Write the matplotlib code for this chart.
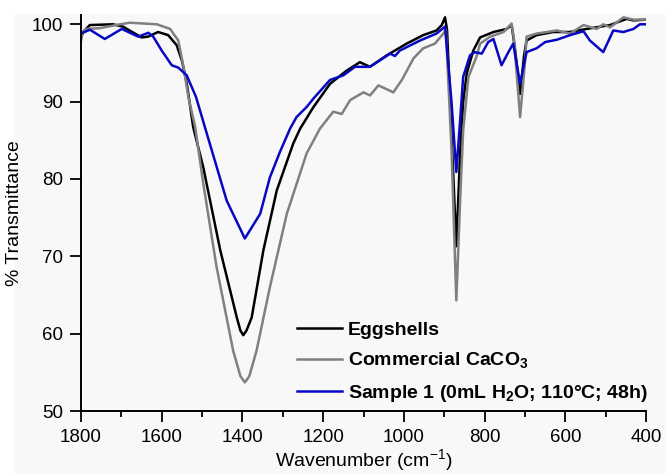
from matplotlib import pyplot as plt
from matplotlib.patches import Rectangle
import numpy as np

# PARAMS
W, H, DPI = 666, 474, 100
BG = '#f8f8f8'
plt.rcParams['font.family'] = ['Liberation Sans', 'DejaVu Sans']
plt.rcParams['mathtext.fontset'] = 'custom'
plt.rcParams['mathtext.rm'] = 'Liberation Sans'
plt.rcParams['mathtext.bf'] = 'Liberation Sans:bold'

# DATA
EGG_X = [1800, 1795, 1778, 1721, 1696, 1650, 1634, 1609, 1584, 1563, 1550, 1538, 1522, 1497, 1455,
         1414, 1405, 1398, 1390, 1377, 1348, 1315, 1274, 1257, 1224, 1183, 1142, 1109, 1084, 1042,
         993, 952, 919, 906, 898, 893, 882, 870, 860, 853, 844, 828, 811, 778, 745, 733, 725, 712,
         702, 696, 671, 630, 589, 547, 489, 448, 431, 400]
EGG_Y = [98.2, 99.0, 99.9, 100.0, 99.7, 98.3, 98.4, 99.0, 98.6, 97.3, 95.3, 92.4, 86.7, 81.5, 70.8,
         62.1, 60.4, 59.8, 60.4, 62.1, 70.8, 78.5, 84.6, 86.5, 89.3, 92.3, 94.0, 95.1, 94.5, 96.0,
         97.5, 98.6, 99.2, 99.9, 100.9, 99.3, 86.0, 71.3, 84.0, 90.0, 93.7, 96.6, 98.3, 99.0, 99.4,
         99.9, 97.0, 91.0, 96.0, 97.9, 98.6, 99.0, 99.0, 99.4, 99.9, 100.7, 100.5, 100.6]

CAL_X = [1800, 1796, 1786, 1753, 1703, 1679, 1612, 1579, 1559, 1546, 1534, 1517, 1497, 1464, 1423,
         1405, 1394, 1383, 1365, 1332, 1290, 1241, 1208, 1175, 1154, 1133, 1100, 1084, 1063, 1026,
         1005, 976, 952, 923, 902, 896, 882, 870, 860, 853, 840, 820, 811, 786, 753, 733, 727, 712,
         700, 696, 671, 621, 588, 555, 522, 506, 489, 456, 431, 400]
CAL_Y = [97.9, 99.0, 99.4, 99.5, 100.0, 100.2, 100.0, 99.4, 97.9, 94.5, 90.6, 86.7, 79.4, 68.6, 57.8,
         54.5, 53.7, 54.5, 57.8, 66.0, 75.5, 83.3, 86.5, 88.7, 88.4, 90.2, 91.2, 90.8, 92.1, 91.2,
         92.8, 95.6, 96.9, 97.5, 98.8, 99.3, 84.0, 64.3, 78.0, 86.3, 93.2, 95.8, 97.5, 98.4, 99.0,
         100.1, 98.0, 88.0, 95.0, 98.4, 98.8, 99.2, 98.8, 99.9, 99.4, 100.0, 99.6, 100.9, 100.6, 100.6]

S1_X = [1800, 1778, 1741, 1699, 1658, 1633, 1621, 1600, 1575, 1559, 1538, 1515, 1493, 1439, 1394,
        1356, 1332, 1307, 1282, 1266, 1241, 1224, 1183, 1150, 1121, 1084, 1034, 1022, 1010, 960,
        919, 898, 882, 870, 860, 853, 836, 824, 807, 791, 778, 758, 741, 729, 712, 696, 671, 650,
        621, 588, 555, 539, 506, 481, 456, 431, 415, 400]
S1_Y = [98.8, 99.3, 98.1, 99.4, 98.4, 98.9, 98.4, 96.6, 94.7, 94.4, 93.4, 90.6, 86.7, 77.2, 72.3,
        75.5, 80.2, 83.5, 86.5, 88.0, 89.3, 90.4, 92.8, 93.4, 94.5, 94.5, 96.2, 95.9, 96.6, 97.9,
        98.8, 99.7, 90.0, 80.9, 88.0, 93.2, 96.0, 96.4, 96.2, 97.7, 98.1, 94.7, 96.4, 97.5, 92.3,
        96.4, 96.9, 97.7, 98.0, 98.6, 99.1, 97.9, 96.4, 99.2, 99.0, 99.4, 100.0, 100.0]

LABELS = ('Eggshells', 'Commercial CaCO$_\\mathbf{3}$', 'Sample 1 (0mL H$_\\mathbf{2}$O; 110°C; 48h)')
COLORS = ('black', '#808080', '#0808c4')

# CREATE
fig = plt.figure(figsize=(W/DPI, H/DPI), dpi=DPI, facecolor='white')
fig.patches.append(Rectangle((14/W, 0), 1, 1-14/H, transform=fig.transFigure, fc=BG, ec='none', zorder=-1))
ax = fig.add_axes([81/W, 1-411/H, (646-81)/W, (411-15)/H])
ax.set_facecolor(BG)

for xs, ys, c, lab in zip((EGG_X, CAL_X, S1_X), (EGG_Y, CAL_Y, S1_Y), COLORS, LABELS):
    ax.plot(xs, ys, color=c, lw=1.8, label=lab, solid_joinstyle='round')

ax.set_xlim(1800, 400)
ax.set_ylim(50, 101.2)
ax.set_xticks(np.arange(1800, 399, -200))
ax.set_xticks(np.arange(1700, 400, -200), minor=True)
ax.set_yticks(np.arange(50, 101, 10))
for s in ('top', 'right'):
    ax.spines[s].set_visible(False)
for s in ('left', 'bottom'):
    ax.spines[s].set_linewidth(1.4)
ax.tick_params(which='major', direction='out', length=8, width=1.3, labelsize=13.5, pad=5)
ax.tick_params(which='minor', direction='out', length=4, width=1.3)

ax.set_xlabel('Wavenumber (cm$^{-1}$)', fontsize=14, labelpad=1)
ax.set_ylabel('% Transmittance', fontsize=14, labelpad=6)

ax.legend(loc='lower right', bbox_to_anchor=(1.024, -0.012), frameon=False, prop={'weight': 'bold', 'size': 14},
          handlelength=2.3, handletextpad=0.3, labelspacing=0.62, borderaxespad=0.2)

# OUT
fig.savefig('out.png', dpi=DPI, facecolor='white')
